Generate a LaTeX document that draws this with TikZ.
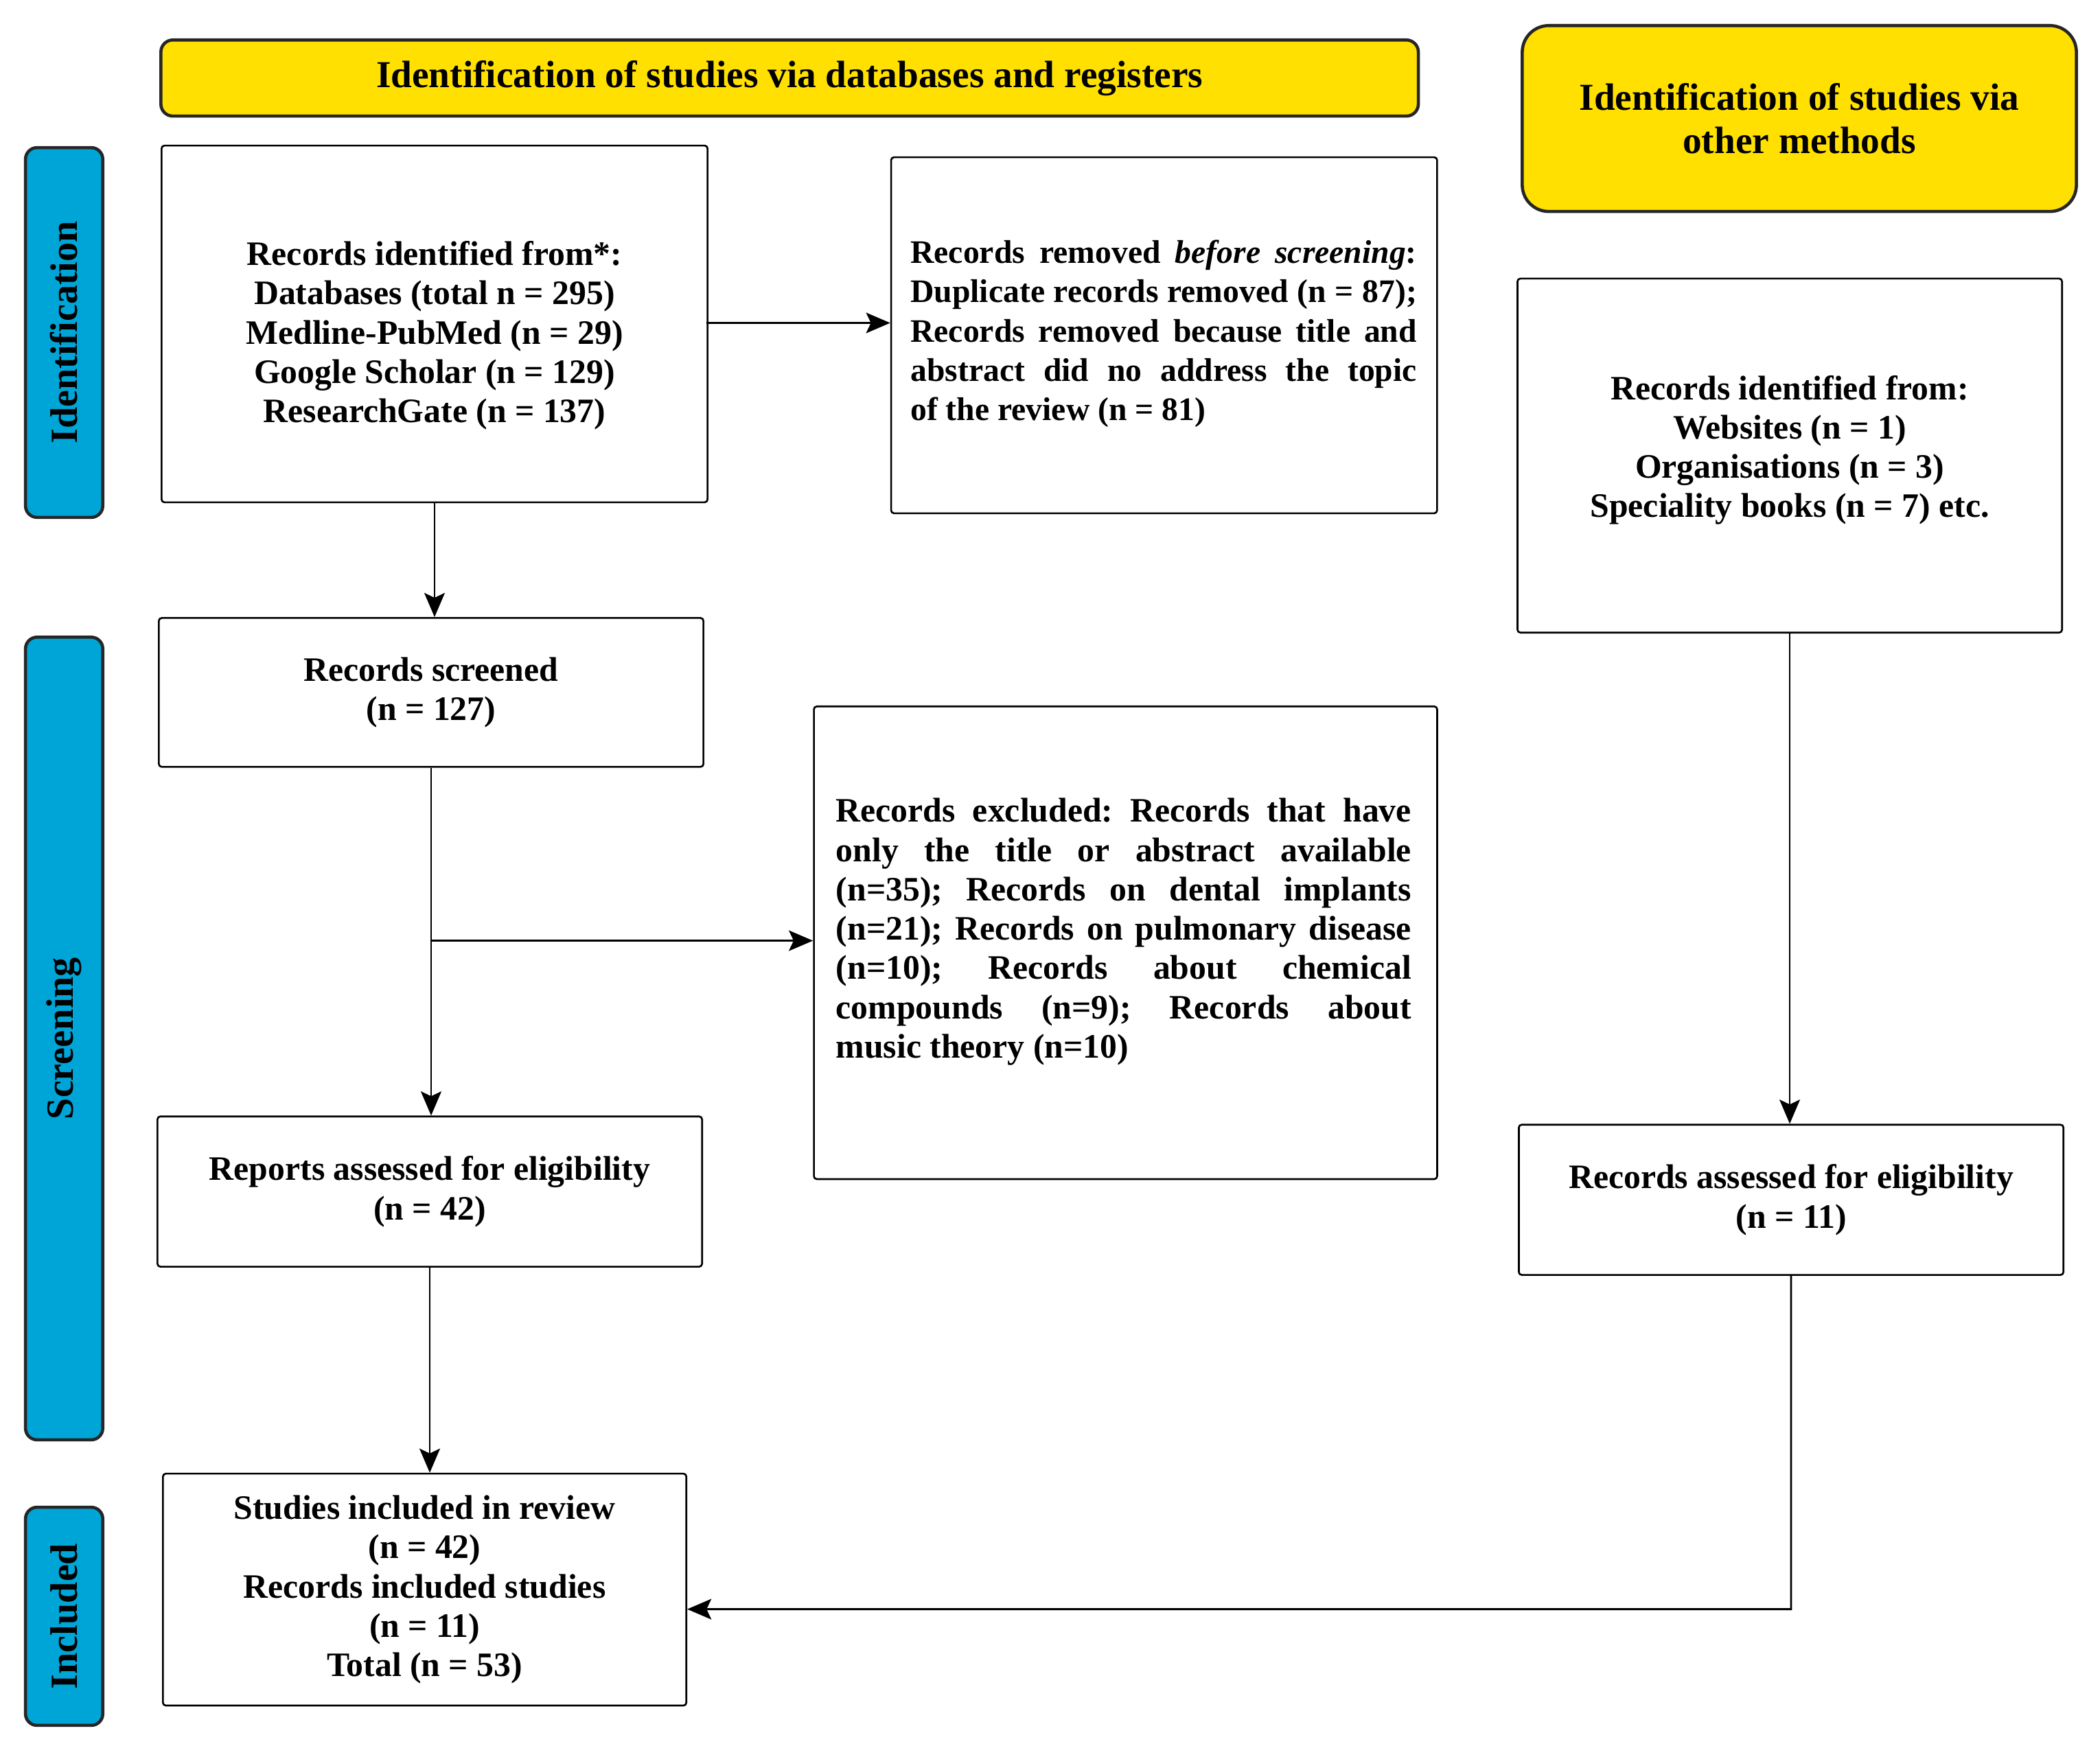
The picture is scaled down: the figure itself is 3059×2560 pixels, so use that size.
\documentclass[tikz,border=0pt]{standalone}
\usepackage{fontspec}
\setmainfont{Liberation Serif}
\usetikzlibrary{arrows.meta,calc}
\definecolor{hdryellow}{RGB}{255,224,0}
\definecolor{phaseblue}{RGB}{0,165,215}
\newcommand{\bodyfont}{\bfseries\fontsize{14.2}{16.3}\selectfont\frenchspacing}
\newcommand{\remfont}{\bfseries\fontsize{13.6}{16.3}\selectfont\frenchspacing}
\newcommand{\hdrfont}{\bfseries\fontsize{15.8}{17.9}\selectfont}
\newcommand{\jline}[2]{{\spaceskip=0pt\xspaceskip=0pt\makebox[#1][s]{#2}}}
\tikzset{
  box/.style={draw=black, line width=0.75pt, rounded corners=1.2pt, fill=white, inner sep=0pt, anchor=north west, align=flush center, font=\bodyfont},
  hdr/.style={draw=black!85, line width=1.3pt, fill=hdryellow, inner sep=0pt, anchor=north west, align=flush center, font=\hdrfont},
  phase/.style={draw=black!85, line width=1.3pt, fill=phaseblue, rounded corners=4.8pt, inner sep=0pt, anchor=north west},
  phasetxt/.style={rotate=90, inner sep=0pt, font=\bfseries\fontsize{16}{18}\selectfont},
  txt/.style={inner sep=0pt, font=\bodyfont},
  arr/.style={-{Stealth[length=10pt,width=8.5pt,inset=2pt]}, line width=0.8pt}
}
\begin{document}
\begin{tikzpicture}[x=0.01cm,y=-0.01cm]
\useasboundingbox[fill=white] (0,0) rectangle (3059,2560);
\begin{scope}[xscale=0.996, yscale=0.999, transform shape]
% headers
\node[hdr, rounded corners=5pt, minimum width=18.38cm, minimum height=1.11cm] (hdrL) at (233,56)
  {Identification of studies via databases and registers};
\node[hdr, rounded corners=11pt, minimum width=8.10cm, minimum height=2.71cm] (hdrR) at (2224,35)
  {Identification of studies via\\other methods};

% phase labels
\node[phase, minimum width=1.13cm, minimum height=5.39cm] (phI) at (35,213) {};
\node[phasetxt] (phIt) at (phI.center) {Identification};
\node[phase, minimum width=1.13cm, minimum height=11.70cm] (phS) at (35,927) {};
\node[phasetxt] (phSt) at (phS.center) {Screening};
\node[phase, minimum width=1.13cm, minimum height=3.18cm] (phN) at (35,2196) {};
\node[phasetxt] (phNt) at (phN.center) {Included};

% left column
\node[box, minimum width=7.98cm, minimum height=5.20cm] (b1) at (235,211) {};
\node[txt, align=flush center] (b1t) at ($(b1.center)+(0,17)$)
  {Records identified from*:\\Databases (total n = 295)\\Medline-PubMed (n = 29)\\Google Scholar (n = 129)\\ResearchGate (n = 137)};

\node[box, minimum width=7.98cm, minimum height=5.19cm] (rem) at (1302,228) {};
\node[txt, font=\remfont, text width=7.40cm, align=flush left, anchor=west] (remt) at (1331,487)
  {\jline{7.40cm}{Records removed \textit{before screening}:}\\
   \jline{7.40cm}{Duplicate records removed (n = 87);}\\
   \jline{7.40cm}{Records removed because title and}\\
   \jline{7.40cm}{abstract did no address the topic}\\
   of the review (n = 81)};

\node[box, minimum width=7.96cm, minimum height=2.17cm] (scr) at (231,900)
  {Records screened\\(n = 127)};

\node[box, minimum width=9.11cm, minimum height=6.89cm] (exc) at (1189,1029) {};
\node[txt, text width=8.41cm, align=flush left, anchor=west] (exct) at (1222,1359)
  {\jline{8.41cm}{Records excluded: Records that have}\\
   \jline{8.41cm}{only the title or abstract available}\\
   \jline{8.41cm}{(n=35); Records on dental implants}\\
   \jline{8.41cm}{(n=21); Records on pulmonary disease}\\
   \jline{8.41cm}{(n=10); Records about chemical}\\
   \jline{8.41cm}{compounds (n=9); Records about}\\
   music theory (n=10)};

\node[box, minimum width=7.96cm, minimum height=2.19cm] (rep) at (229,1627)
  {Reports assessed for eligibility\\(n = 42)};

\node[box, minimum width=7.65cm, minimum height=3.38cm] (inc) at (237,2148)
  {Studies included in review\\(n = 42)\\Records included studies\\(n = 11)\\Total (n = 53)};

% right column
\node[box, minimum width=7.96cm, minimum height=5.16cm] (oth) at (2218,405) {};
\node[txt, align=flush center] (otht) at ($(oth.center)+(0,-8)$)
  {Records identified from:\\Websites (n = 1)\\Organisations (n = 3)\\Speciality books (n = 7) etc.};

\node[box, minimum width=7.96cm, minimum height=2.19cm] (ora) at (2220,1639)
  {Records assessed for eligibility\\(n = 11)};

% connectors
\draw[arr] (b1.south) -- (b1.south |- scr.north);
\coordinate (a1) at (1033,471);
\draw[arr] (a1) -- (a1 -| rem.west);
\draw[arr] (scr.south) -- (scr.south |- rep.north);
\coordinate (br) at (scr.south |- 0,1372);
\draw[arr] (br) -- (br -| exc.west);
\draw[arr] (rep.south) -- (rep.south |- inc.north);
\draw[arr] (oth.south) -- (oth.south |- ora.north);
\coordinate (c2) at (ora.south |- 0,2347);
\draw[arr] (ora.south) -- (c2) -- (c2 -| inc.east);
\end{scope}
\end{tikzpicture}
\end{document}
